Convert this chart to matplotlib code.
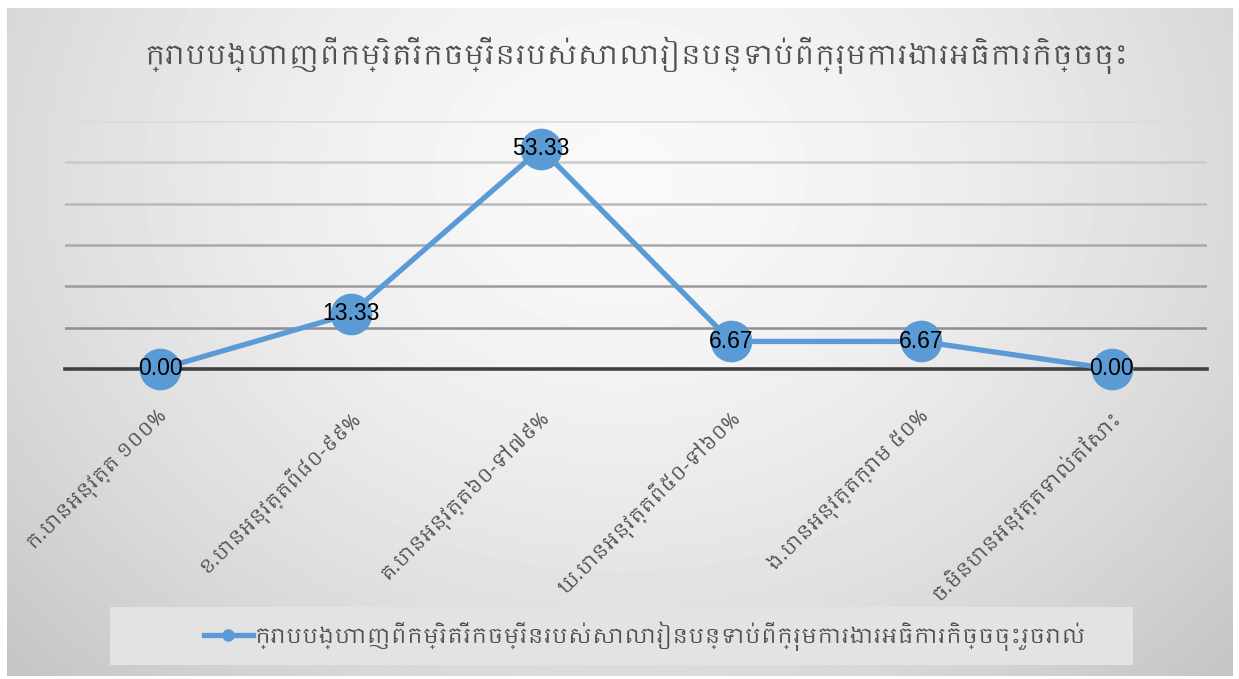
import numpy as np
import matplotlib
matplotlib.use('Agg')
import matplotlib.pyplot as plt
from matplotlib.lines import Line2D
from matplotlib.patches import Rectangle
from matplotlib.transforms import offset_copy

# ---- data ----
categories = ['ក.បានអនុវត្ត ១០០%',
              'ខ.បានអនុវត្តពី៨០-៩៩%',
              'គ.បានអនុវត្ត៦០-ទៅ៧៩%',
              'ឃ.បានអនុវត្តពី៥០-ទៅ៦០%',
              'ង.បានអនុវត្តក្រោម ៥០%',
              'ច.មិនបានអនុវត្តទាល់តែសោះ']
values = [0.00, 13.33, 53.33, 6.67, 6.67, 0.00]
title = 'ក្រាបបង្ហាញពីកម្រិតរីកចម្រើនរបស់សាលារៀនបន្ទាប់ពីក្រុមការងារអធិការកិច្ចចុះ'
series_name = 'ក្រាបបង្ហាញពីកម្រិតរីកចម្រើនរបស់សាលារៀនបន្ទាប់ពីក្រុមការងារអធិការកិច្ចចុះរួចរាល់'

KH = ['Khmer', 'DejaVu Sans']
BLUE = '#5b9bd5'
TXT = '#505050'

W, H = 1239, 679
fig = plt.figure(figsize=(W / 100, H / 100), dpi=100)
fig.patch.set_facecolor('white')

# ---- gradient background of the chart area ----
x0, x1, y0, y1 = 7, 1233, 8, 676
bg = fig.add_axes([x0 / W, 1 - y1 / H, (x1 - x0) / W, (y1 - y0) / H], zorder=0)
gx, gy = np.meshgrid(np.linspace(0, 1, 400), np.linspace(0, 1, 220))
d = np.sqrt(((gx - 0.5) / 0.62) ** 2 + ((gy - 0.25) / 0.95) ** 2)
shade = np.clip(0.975 - 0.17 * d ** 1.6, 0.76, 1)
bg.imshow(shade, cmap='gray', vmin=0, vmax=1, aspect='auto',
          extent=[0, 1, 1, 0], interpolation='bicubic')
bg.set_xlim(0, 1)
bg.set_ylim(1, 0)
bg.axis('off')

# ---- plot area ----
ax = fig.add_axes([65 / W, 1 - 369 / H, 1142 / W, 248 / H], zorder=2)
ax.patch.set_alpha(0)
x = np.arange(len(categories))
ax.set_xlim(-0.5, len(categories) - 0.5)
ax.set_ylim(0, 60)

# gridlines get lighter towards the top
grid_cols = ['#8e8e8e', '#9b9b9b', '#a9a9a9', '#b9b9b9', '#cacaca', '#dcdcdc']
for lvl, c in zip(range(10, 70, 10), grid_cols):
    ax.axhline(lvl, color=c, lw=1.8, zorder=1)
ax.axhline(0, color='#404040', lw=2.6, zorder=2, clip_on=False)

ax.plot(x, values, color=BLUE, lw=3.8, marker='o', markersize=29,
        markerfacecolor=BLUE, markeredgecolor=BLUE, zorder=3, clip_on=False)
for xi, v in zip(x, values):
    ax.text(xi, v, f'{v:.2f}', ha='center', va='center', fontsize=16.5,
            family='Liberation Sans', color='black', zorder=4)

for s in ax.spines.values():
    s.set_visible(False)
ax.set_yticks([])
ax.set_xticks([])

# rotated category labels, right end just below each point
lab_tr = offset_copy(ax.get_xaxis_transform(), fig=fig, x=-3, y=-37, units='dots')
for xi, lab in zip(x, categories):
    ax.text(xi, 0, lab, transform=lab_tr, rotation=45, rotation_mode='anchor',
            ha='right', va='top', fontsize=14, color=TXT, family=KH)

# ---- title ----
fig.text(0.514, 1 - 55 / H, title, ha='center', va='center', fontsize=19.6,
         color=TXT, family=KH)

# ---- legend ----
fig.patches.append(Rectangle((110 / W, 1 - 665 / H), 1023 / W, 58 / H,
                             transform=fig.transFigure, facecolor='#e3e3e3',
                             edgecolor='none', zorder=1))
handle = Line2D([], [], color=BLUE, lw=3.8, marker='o', markersize=8,
                markerfacecolor=BLUE, markeredgecolor=BLUE)
fig.legend([handle], [series_name], loc='center',
           bbox_to_anchor=(645 / W, 1 - 636 / H), frameon=False,
           prop={'family': KH, 'size': 15.3}, handlelength=2.3,
           handletextpad=0.1, labelcolor=TXT)

fig.savefig('out.png', dpi=100)
